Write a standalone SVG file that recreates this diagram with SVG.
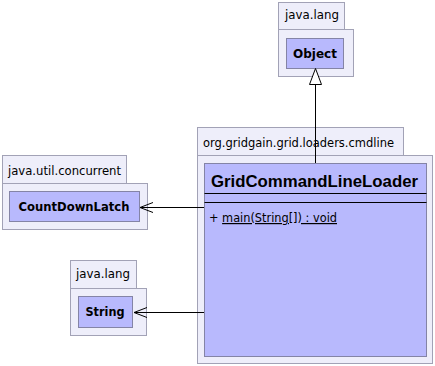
<svg xmlns="http://www.w3.org/2000/svg" width="435" height="366" viewBox="0 0 435 366">
  <style>
    .pkg { fill: #eeeefa; stroke: #a2a2b6; stroke-width: 1; }
    .cls { fill: #b8b9fd; stroke: #8484a6; stroke-width: 1; }
    .pkgname { font-family: "DejaVu Sans", "Liberation Sans", sans-serif; font-size: 13px; fill: #000; }
    .clsname { font-family: "DejaVu Sans", "Liberation Sans", sans-serif; font-size: 13px; font-weight: bold; fill: #000; }
    .bigname { font-family: "Liberation Sans", "DejaVu Sans", sans-serif; font-size: 17px; font-weight: bold; fill: #000; }
    .member { font-family: "DejaVu Sans", "Liberation Sans", sans-serif; font-size: 12px; fill: #000; }
    .edge { stroke: #000; stroke-width: 1; fill: none; }
  </style>
  <defs>
    <marker id="open" markerWidth="16" markerHeight="12" refX="14" refY="6" orient="auto" markerUnits="userSpaceOnUse">
      <path d="M1,1 L14,6 L1,11" fill="none" stroke="#000" stroke-width="1"/>
    </marker>
  </defs>

  <!-- java.lang / Object -->
  <g id="pkg-java-lang-object">
    <rect class="pkg" x="278.5" y="2.5" width="66" height="27"/>
    <rect class="pkg" x="278.5" y="29.5" width="75" height="47"/>
    <text class="pkgname" x="285" y="19" textLength="54" lengthAdjust="spacingAndGlyphs">java.lang</text>
  </g>
  <g id="Object">
    <rect class="cls" x="286.5" y="38.5" width="57" height="30"/>
    <text class="clsname" x="315" y="58" text-anchor="middle" textLength="44" lengthAdjust="spacingAndGlyphs">Object</text>
  </g>

  <!-- org.gridgain.grid.loaders.cmdline / GridCommandLineLoader -->
  <g id="pkg-cmdline">
    <rect class="pkg" x="197.5" y="127.5" width="206" height="28"/>
    <rect class="pkg" x="197.5" y="155.5" width="235" height="208"/>
    <text class="pkgname" x="203" y="147" textLength="191" lengthAdjust="spacingAndGlyphs">org.gridgain.grid.loaders.cmdline</text>
  </g>
  <g id="GridCommandLineLoader">
    <rect class="cls" x="204.5" y="163.5" width="222" height="193"/>
    <text class="bigname" x="211" y="187" textLength="207" lengthAdjust="spacingAndGlyphs">GridCommandLineLoader</text>
    <line x1="204.5" y1="193.5" x2="426.5" y2="193.5" stroke="#000"/>
    <line x1="204.5" y1="202.5" x2="426.5" y2="202.5" stroke="#000"/>
    <text class="member" x="209" y="222" textLength="128" lengthAdjust="spacingAndGlyphs">+ <tspan text-decoration="underline">main(String[]) : void </tspan></text>
  </g>

  <!-- java.util.concurrent / CountDownLatch -->
  <g id="pkg-java-util-concurrent">
    <rect class="pkg" x="2.5" y="155.5" width="124" height="28"/>
    <rect class="pkg" x="2.5" y="183.5" width="145" height="46"/>
    <text class="pkgname" x="8" y="175" textLength="113" lengthAdjust="spacingAndGlyphs">java.util.concurrent</text>
  </g>
  <g id="CountDownLatch">
    <rect class="cls" x="9.5" y="191.5" width="130" height="30"/>
    <text class="clsname" x="74" y="211" text-anchor="middle" textLength="111" lengthAdjust="spacingAndGlyphs">CountDownLatch</text>
  </g>

  <!-- java.lang / String -->
  <g id="pkg-java-lang-string">
    <rect class="pkg" x="70.5" y="260.5" width="66" height="28"/>
    <rect class="pkg" x="70.5" y="288.5" width="76" height="47"/>
    <text class="pkgname" x="76" y="278" textLength="54" lengthAdjust="spacingAndGlyphs">java.lang</text>
  </g>
  <g id="String">
    <rect class="cls" x="78.5" y="296.5" width="54" height="31"/>
    <text class="clsname" x="105" y="316" text-anchor="middle" textLength="39" lengthAdjust="spacingAndGlyphs">String</text>
  </g>

  <!-- connectors -->
  <g id="edges">
    <line class="edge" x1="315.5" y1="163" x2="315.5" y2="84"/>
    <polygon points="315.5,68.5 309.5,84.5 321.5,84.5" fill="#fff" stroke="#000" stroke-width="1"/>
    <line class="edge" x1="204" y1="207.5" x2="140" y2="207.5" marker-end="url(#open)"/>
    <line class="edge" x1="204" y1="312.5" x2="134" y2="312.5" marker-end="url(#open)"/>
  </g>
</svg>
